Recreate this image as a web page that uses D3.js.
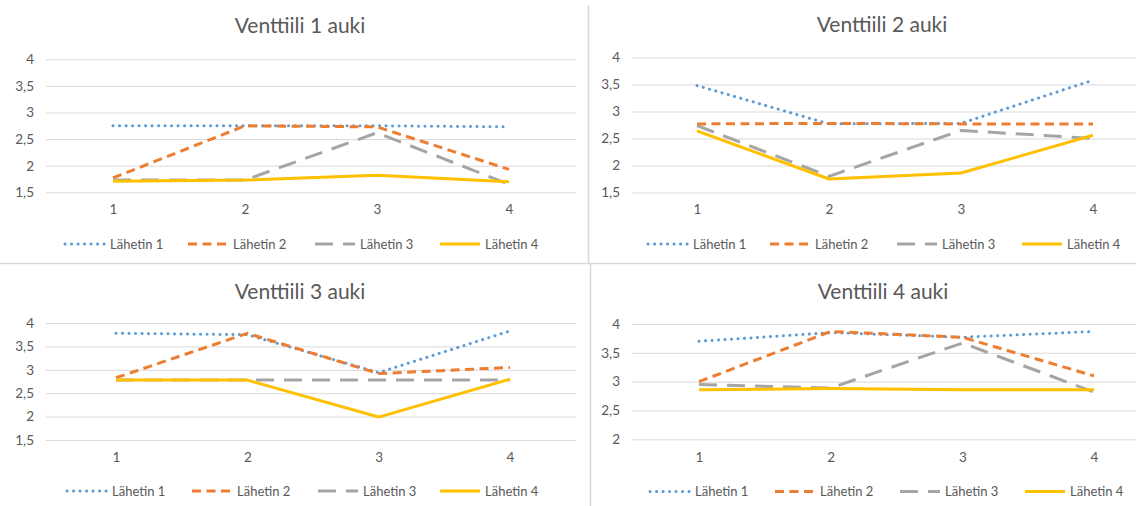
<!DOCTYPE html>
<html>
<head>
<meta charset="utf-8">
<script src="https://cdn.jsdelivr.net/npm/d3@7"></script>
<style>
  html, body { margin: 0; padding: 0; background: #fff; }
  svg { display: block; font-family: Lato, "Open Sans", sans-serif; }
</style>
</head>
<body>
<svg id="chart" width="1136" height="506"></svg>
<script>
// Categories on the x axis and the four transmitters
const categories = [1, 2, 3, 4];
const seriesNames = ["Lähetin 1", "Lähetin 2", "Lähetin 3", "Lähetin 4"];
const panelTitles = ["Venttiili 1 auki", "Venttiili 2 auki", "Venttiili 3 auki", "Venttiili 4 auki"];

// Y tick labels for each panel
const yTicks1 = [1.5, 2, 2.5, 3, 3.5, 4];
const yTicks2 = [1.5, 2, 2.5, 3, 3.5, 4];
const yTicks3 = [1.5, 2, 2.5, 3, 3.5, 4];
const yTicks4 = [2, 2.5, 3, 3.5, 4];

// Readings: one row per transmitter, one value per category
const venttiili1 = [
  [2.75, 2.75, 2.75, 2.73],
  [1.77, 2.75, 2.73, 1.93],
  [1.73, 1.73, 2.62, 1.65],
  [1.71, 1.73, 1.82, 1.70]
];
const venttiili2 = [
  [3.48, 2.77, 2.78, 3.58],
  [2.77, 2.78, 2.77, 2.77],
  [2.74, 1.80, 2.65, 2.50],
  [2.64, 1.75, 1.86, 2.56]
];
const venttiili3 = [
  [3.78, 3.75, 2.94, 3.83],
  [2.83, 3.78, 2.92, 3.05],
  [2.78, 2.78, 2.78, 2.78],
  [2.78, 2.78, 1.99, 2.80]
];
const venttiili4 = [
  [3.70, 3.85, 3.77, 3.87],
  [3.00, 3.87, 3.77, 3.10],
  [2.95, 2.89, 3.67, 2.82],
  [2.86, 2.88, 2.86, 2.86]
];

// Line styles per transmitter
const styles = [
  { color: "#5B9BD5", width: 3, dash: "0.1 6.4", cap: "round" },
  { color: "#ED7D31", width: 3, dash: "9 5.5", cap: "butt" },
  { color: "#A5A5A5", width: 3, dash: "18 10", cap: "butt" },
  { color: "#FFC000", width: 3, dash: null, cap: "butt" }
];

const fi = d3.formatLocale({ decimal: ",", thousands: " ", grouping: [3], currency: ["", "€"] });
const fmt = v => fi.format("~g")(v);

const panels = [
  { title: panelTitles[0], ticks: yTicks1, data: venttiili1,
    titleX: 300, titleY: 33, gridX: [46, 576], yRange: [192.3, 59.3], xRange: [113, 509], catY: 214,
    legendY: 244, legendX: [65, 188, 315, 440] },
  { title: panelTitles[1], ticks: yTicks2, data: venttiili2,
    titleX: 882, titleY: 32, gridX: [632, 1136], yRange: [192.5, 57.5], xRange: [697, 1093], catY: 214,
    legendY: 244, legendX: [648, 770, 897, 1022] },
  { title: panelTitles[2], ticks: yTicks3, data: venttiili3,
    titleX: 300, titleY: 299, gridX: [46, 576], yRange: [440, 323], xRange: [116, 510], catY: 462,
    legendY: 491, legendX: [67, 192, 318, 440] },
  { title: panelTitles[3], ticks: yTicks4, data: venttiili4,
    titleX: 883, titleY: 299, gridX: [632, 1136], yRange: [439.3, 324], xRange: [699, 1094], catY: 462,
    legendY: 491.5, legendX: [650, 775, 900, 1025] }
];

const svg = d3.select("#chart");

// Panel separators
const sep = svg.append("g").attr("stroke", "#D9D9D9").attr("stroke-width", 1.5);
sep.append("line").attr("x1", 588.5).attr("x2", 588.5).attr("y1", 5).attr("y2", 263);
sep.append("line").attr("x1", 0).attr("x2", 1136).attr("y1", 263.5).attr("y2", 263.5);
sep.append("line").attr("x1", 590.5).attr("x2", 590.5).attr("y1", 263).attr("y2", 506);

panels.forEach(p => {
  const g = svg.append("g");
  const ext = d3.extent(p.ticks);
  const y = d3.scaleLinear().domain(ext).range(p.yRange);
  const x = d3.scalePoint().domain(categories).range(p.xRange);

  // Title
  g.append("text")
    .attr("x", p.titleX).attr("y", p.titleY)
    .attr("text-anchor", "middle")
    .attr("font-size", 21).attr("fill", "#595959")
    .text(p.title);

  // Gridlines and value labels
  const yAxis = d3.axisLeft(y).tickValues(p.ticks).tickFormat(fmt)
    .tickSize(-(p.gridX[1] - p.gridX[0])).tickPadding(12);
  const ya = g.append("g").attr("transform", `translate(${p.gridX[0]},0)`).call(yAxis);
  ya.select(".domain").remove();
  ya.selectAll(".tick line").attr("stroke", "#D9D9D9").attr("stroke-width", 1);
  ya.selectAll(".tick text").attr("fill", "#595959").attr("font-size", 13.5)
    .attr("font-family", "Lato, 'Open Sans', sans-serif");

  // Category labels
  const xAxis = d3.axisBottom(x).tickSize(0).tickPadding(0);
  const xa = g.append("g").attr("transform", `translate(0,${p.catY - 10})`).call(xAxis);
  xa.select(".domain").remove();
  xa.selectAll(".tick text").attr("fill", "#595959").attr("font-size", 13.5)
    .attr("font-family", "Lato, 'Open Sans', sans-serif");

  // Series lines
  const line = d3.line().x((d, i) => x(categories[i])).y(d => y(d));
  p.data.forEach((vals, si) => {
    const s = styles[si];
    g.append("path")
      .attr("d", line(vals))
      .attr("fill", "none")
      .attr("stroke", s.color)
      .attr("stroke-width", s.width)
      .attr("stroke-linecap", s.cap)
      .attr("stroke-linejoin", "round")
      .attr("stroke-dasharray", s.dash);
  });

  // Legend
  seriesNames.forEach((name, si) => {
    const s = styles[si];
    const lx = p.legendX[si];
    g.append("line")
      .attr("x1", lx).attr("x2", lx + 40)
      .attr("y1", p.legendY).attr("y2", p.legendY)
      .attr("stroke", s.color).attr("stroke-width", s.width)
      .attr("stroke-linecap", s.cap)
      .attr("stroke-dasharray", s.dash);
    g.append("text")
      .attr("x", lx + 45).attr("y", p.legendY + 4.5)
      .attr("font-size", 13).attr("fill", "#595959")
      .text(name);
  });
});
</script>
</body>
</html>
